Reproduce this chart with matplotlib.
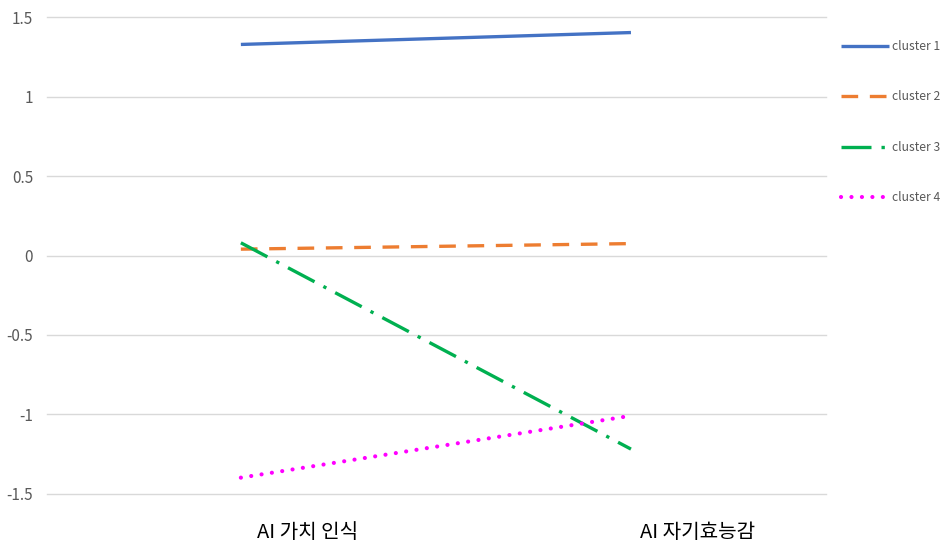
import matplotlib.pyplot as plt
from matplotlib.transforms import offset_copy

plt.rcParams['font.family'] = ['Noto Sans CJK KR', 'DejaVu Sans']

# data
categories = ["AI 가치 인식", "AI 자기효능감"]
cluster1 = [1.33, 1.405]
cluster2 = [0.04, 0.075]
cluster3 = [0.08, -1.22]
cluster4 = [-1.40, -1.01]
labels = ["cluster 1", "cluster 2", "cluster 3", "cluster 4"]
yticks = [-1.5, -1, -0.5, 0, 0.5, 1, 1.5]
ytick_labels = ['-1.5', '-1', '-0.5', '0', '0.5', '1', '1.5']

W, H = 942, 545
fig = plt.figure(figsize=(W / 100, H / 100), dpi=100)
ax = fig.add_axes([47 / W, 1 - 494 / H, (826 - 47) / W, (494 - 17) / H])

# gridlines, drawn by hand so the edge ones don't get clipped
for v in yticks:
    ax.axhline(v, color='#d9d9d9', lw=1, zorder=0, clip_on=False)

x = list(range(len(categories)))
ax.plot(x, cluster1, color='#4472C4', lw=2.4, solid_capstyle='butt', label=labels[0])
ax.plot(x, cluster2, color='#ED7D31', lw=2.4, linestyle=(0, (5, 3.5)),
        dash_capstyle='butt', label=labels[1])
ax.plot(x, cluster3, color='#00B050', lw=2.4, linestyle=(0, (9, 3, 1, 3)),
        dash_capstyle='butt', label=labels[2])
ax.plot(x, cluster4, color='#FF00FF', lw=3.0, linestyle=(0, (0.01, 2.5)),
        dash_capstyle='round', label=labels[3])

ax.set_xlim(-0.497, 1.5)
ax.set_ylim(-1.503, 1.503)
ax.set_yticks(yticks)
ax.set_yticklabels(ytick_labels)
for s in ax.spines.values():
    s.set_visible(False)
ax.tick_params(axis='y', length=0, pad=10, labelsize=11, labelcolor='#595959')
ax.set_xticks([])

# category labels
for i, c in enumerate(categories):
    tr = offset_copy(ax.get_xaxis_transform(), fig=fig, x=67, y=-38, units='dots')
    ax.text(i, 0, c, transform=tr, ha='center', va='center', fontsize=14.5, color='#000000')

leg = fig.legend(loc='upper left', bbox_to_anchor=(836 / W, 1 - 35 / H),
                 frameon=False, fontsize=8.7, labelspacing=3.1, handlelength=4.0,
                 handletextpad=0.2, borderaxespad=0)
for t in leg.get_texts():
    t.set_color('#595959')

fig.savefig('out.png', dpi=100)
